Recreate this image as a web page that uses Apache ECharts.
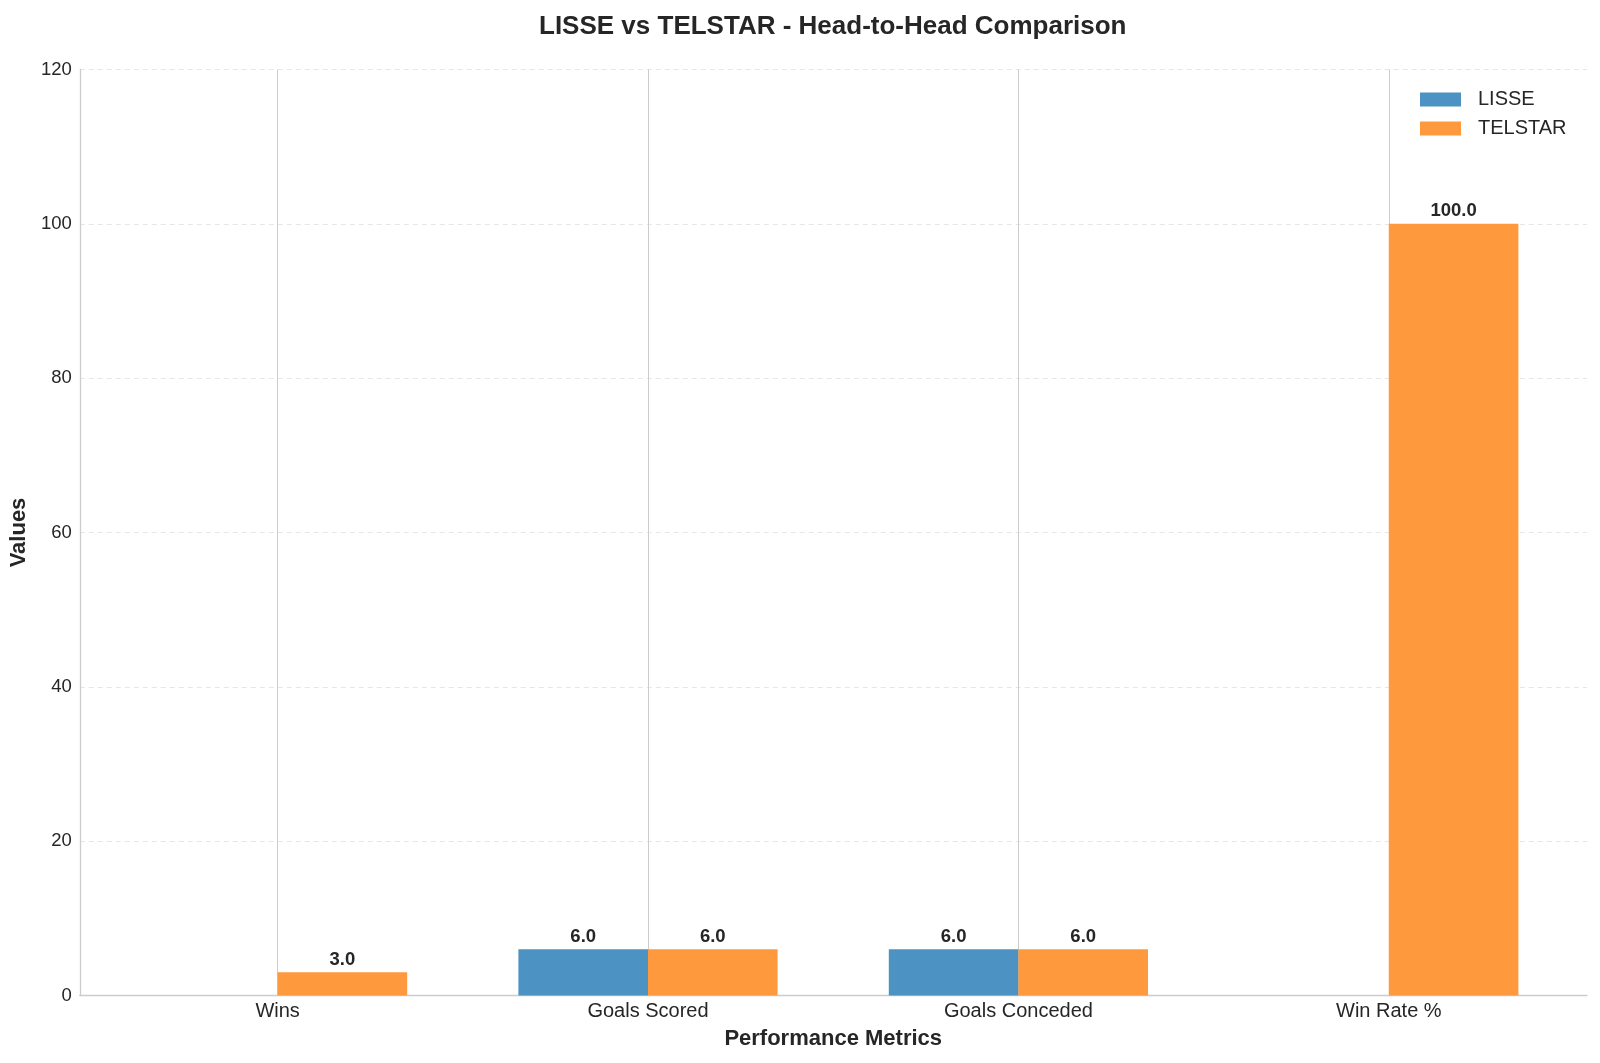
<!DOCTYPE html>
<html>
<head>
<meta charset="utf-8">
<script src="https://cdn.jsdelivr.net/npm/echarts@6/dist/echarts.min.js"></script>
<style>
html,body{margin:0;padding:0;background:#fff;}
#chart{width:1600px;height:1063px;}
</style>
</head>
<body>
<div id="chart"></div>
<script>
var categories = ['Wins', 'Goals Scored', 'Goals Conceded', 'Win Rate %'];
var lisseValues = [0, 6, 6, 0];
var telstarValues = [3, 6, 6, 100];
var yTicks = [0, 20, 40, 60, 80, 100, 120];

var FONT = '"Liberation Sans", Arial, Helvetica, sans-serif';
var TXT = '#262626';

var chart = echarts.init(document.getElementById('chart'), null, {renderer: 'canvas'});

function barLabel(p) { return p.value > 0 ? p.value.toFixed(1) : ''; }

var option = {
  backgroundColor: '#ffffff',
  animation: false,
  textStyle: {fontFamily: FONT},
  title: {
    text: 'LISSE vs TELSTAR - Head-to-Head Comparison',
    left: 539, top: 14, padding: 0,
    textStyle: {fontFamily: FONT, fontSize: 26, fontWeight: 'bold', color: TXT}
  },
  legend: {
    orient: 'vertical',
    left: 1420, top: 89,
    padding: 0,
    itemWidth: 41, itemHeight: 14, itemGap: 8,
    icon: 'rect',
    textStyle: {fontFamily: FONT, fontSize: 20, color: TXT, lineHeight: 21, padding: [0, 0, 0, 12]},
    data: ['LISSE', 'TELSTAR']
  },
  grid: [
    {left: 92.4, right: 26, top: 69.5, bottom: 67.5, containLabel: false},
    {left: 79.5, right: 13, top: 69.5, bottom: 67.5, containLabel: false}
  ],
  xAxis: [
    {
      type: 'category', gridIndex: 0, data: categories,
      axisLine: {show: false}, axisTick: {show: false},
      axisLabel: {fontFamily: FONT, fontSize: 20, color: TXT, margin: 6},
      splitLine: {show: true, alignWithLabel: true, lineStyle: {color: '#cccccc', width: 1}},
      name: 'Performance Metrics', nameLocation: 'middle', nameGap: 32,
      nameTextStyle: {fontFamily: FONT, fontSize: 22, fontWeight: 'bold', color: TXT}
    },
    {
      type: 'value', gridIndex: 1, min: 0, max: 1,
      axisLine: {show: true, lineStyle: {color: '#cccccc', width: 1.3}},
      axisTick: {show: false}, axisLabel: {show: false}, splitLine: {show: false}
    }
  ],
  yAxis: [
    {
      type: 'value', gridIndex: 0, min: 0, max: 120, interval: 20,
      axisLine: {show: false}, axisTick: {show: false}, axisLabel: {show: false}, splitLine: {show: false}
    },
    {
      type: 'value', gridIndex: 1, min: 0, max: 120, interval: 20,
      axisLine: {show: true, lineStyle: {color: '#cccccc', width: 1.3}},
      axisTick: {show: false},
      axisLabel: {fontFamily: FONT, fontSize: 18.5, color: TXT, margin: 8,
        formatter: function (v) { return yTicks.indexOf(v) >= 0 ? String(v) : ''; }},
      splitLine: {show: true, lineStyle: {color: '#e6e6e6', width: 1, type: [5, 4]}},
      name: 'Values', nameLocation: 'middle', nameGap: 44, nameRotate: 90,
      nameTextStyle: {fontFamily: FONT, fontSize: 22, fontWeight: 'bold', color: TXT}
    }
  ],
  series: [
    {
      name: 'LISSE', type: 'bar', xAxisIndex: 0, yAxisIndex: 0,
      data: lisseValues, barWidth: 129.6, barGap: '0%',
      itemStyle: {color: '#4c92c3'},
      label: {show: true, position: 'top', distance: 3, formatter: barLabel,
        fontFamily: FONT, fontSize: 18.5, fontWeight: 'bold', color: TXT}
    },
    {
      name: 'TELSTAR', type: 'bar', xAxisIndex: 0, yAxisIndex: 0,
      data: telstarValues, barWidth: 129.6, barGap: '0%',
      itemStyle: {color: '#ff993e'},
      label: {show: true, position: 'top', distance: 3, formatter: barLabel,
        fontFamily: FONT, fontSize: 18.5, fontWeight: 'bold', color: TXT}
    }
  ]
};
chart.setOption(option);
</script>
</body>
</html>
